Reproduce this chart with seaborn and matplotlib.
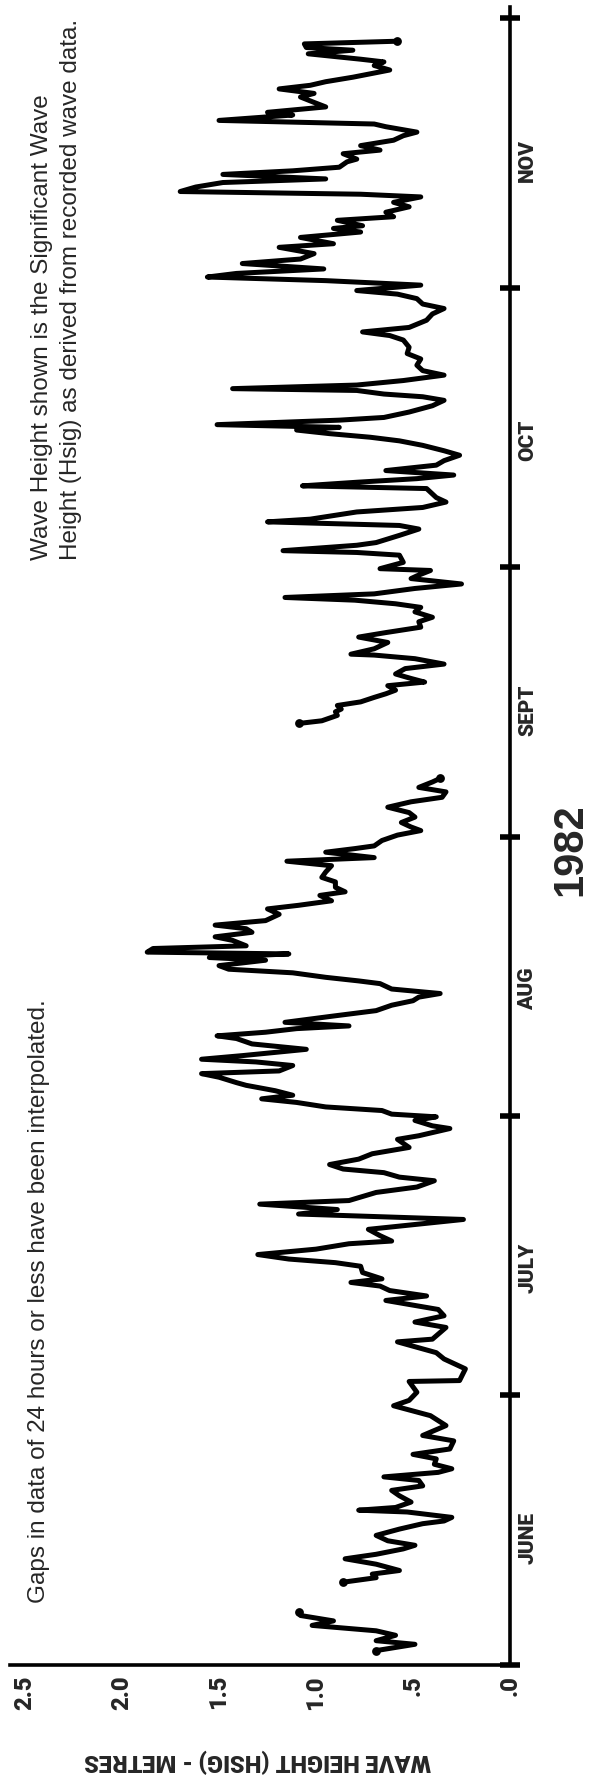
import numpy as np
import pandas as pd
import matplotlib
matplotlib.use("Agg")
import matplotlib.pyplot as plt
import seaborn as sns

# Significant wave height (m); time in days after 1 June 1982.
# Three recorded stretches separated by longer data gaps.
early_june_day = [1.6, 2.3, 2.7, 3.3, 3.8, 4.4, 4.9, 5.5, 5.9]
early_june_hsig = [0.69, 0.49, 0.69, 0.59, 0.69, 1.02, 0.91, 1.08, 1.09]

summer_day = [
    9.2, 9.7, 10.1, 10.5, 11.2, 11.8, 12.3, 12.9, 13.3, 13.8, 14.4, 15.1, 15.7,
    16.0, 16.4, 17.0, 17.2, 17.5, 18.1, 18.8, 19.4, 19.9, 20.5, 20.9, 21.4, 21.8,
    22.3, 22.9, 23.4, 24.0, 24.9, 25.5, 26.6, 27.7, 28.8, 29.4, 30.3, 31.5, 31.6,
    32.9, 34.0, 34.7, 35.9, 36.2, 37.5, 38.1, 38.8, 39.5, 40.5, 41.0, 41.6, 42.1,
    42.5, 42.9, 43.6, 44.3, 44.7, 45.1, 45.6, 46.2, 46.8, 47.1, 47.7, 48.4, 49.0,
    49.5, 50.1, 50.6, 51.2, 51.6, 52.5, 53.1, 53.8, 54.2, 54.7, 55.1, 55.6, 56.2,
    56.8, 57.5, 58.4, 58.8, 59.6, 59.9, 60.5, 60.9, 61.2, 61.6, 62.0, 62.5, 62.9,
    63.3, 63.8, 64.4, 64.7, 65.3, 65.7, 66.0, 66.6, 67.0, 67.3, 67.7, 68.4, 69.0,
    69.6, 69.9, 70.3, 70.7, 71.0, 71.4, 72.1, 72.7, 73.3, 73.8, 74.2, 74.6, 75.1,
    75.7, 76.0, 76.4, 76.9, 77.3, 77.7, 78.3, 78.6, 79.0, 79.2, 79.6, 79.9, 80.5,
    80.9, 81.4, 81.8, 82.2, 82.7, 83.4, 84.0, 84.4, 84.9, 85.5, 85.9, 86.4, 87.0,
    87.5, 88.1, 88.8, 89.3, 89.7, 90.3, 90.7, 91.0, 91.6, 92.2, 92.7, 93.1, 93.6,
    94.2, 94.7, 95.3, 95.9, 96.4, 97.0, 97.5, 98.1, 98.5,
]
summer_hsig = [
    0.86, 0.69, 0.71, 0.57, 0.69, 0.85, 0.69, 0.55, 0.49, 0.63, 0.69, 0.57, 0.45,
    0.34, 0.30, 0.53, 0.78, 0.59, 0.51, 0.57, 0.61, 0.45, 0.47, 0.65, 0.37, 0.30,
    0.39, 0.38, 0.50, 0.31, 0.29, 0.45, 0.33, 0.41, 0.60, 0.52, 0.48, 0.52, 0.26,
    0.23, 0.34, 0.38, 0.58, 0.40, 0.33, 0.49, 0.34, 0.37, 0.64, 0.43, 0.62, 0.67,
    0.82, 0.66, 0.76, 0.77, 0.90, 1.14, 1.30, 1.00, 0.83, 0.61, 0.67, 0.73, 0.46,
    0.24, 1.09, 0.89, 1.29, 0.83, 0.69, 0.48, 0.39, 0.57, 0.65, 0.86, 0.93, 0.78,
    0.71, 0.52, 0.58, 0.47, 0.31, 0.40, 0.49, 0.38, 0.61, 0.66, 0.95, 1.10, 1.28,
    1.12, 1.21, 1.36, 1.41, 1.50, 1.59, 1.19, 1.12, 1.31, 1.59, 1.38, 1.05, 1.33,
    1.41, 1.51, 1.26, 1.10, 0.83, 1.16, 0.91, 0.69, 0.61, 0.50, 0.47, 0.36, 0.61,
    0.67, 0.78, 0.95, 1.12, 1.45, 1.50, 1.26, 1.55, 1.14, 1.87, 1.84, 1.36, 1.43,
    1.52, 1.33, 1.36, 1.52, 1.26, 1.19, 1.25, 1.09, 0.92, 0.98, 0.85, 0.90, 0.90,
    0.97, 0.95, 0.92, 1.15, 0.70, 0.95, 0.80, 0.70, 0.66, 0.58, 0.46, 0.51, 0.56,
    0.49, 0.52, 0.63, 0.51, 0.35, 0.33, 0.47, 0.40, 0.36,
]

autumn_day = [
    104.6, 104.9, 105.5, 105.9, 106.2, 106.6, 107.0, 107.5, 107.9, 108.3, 108.8,
    109.2, 109.6, 110.1, 110.7, 111.2, 111.8, 112.2, 112.3, 112.9, 113.6, 114.2,
    114.7, 115.3, 115.9, 116.4, 117.0, 117.5, 117.9, 118.3, 118.6, 119.0, 119.6,
    120.1, 120.7, 121.0, 121.6, 121.8, 122.5, 123.3, 123.6, 123.8, 124.4, 124.7,
    125.5, 126.2, 126.6, 127.0, 127.3, 128.1, 128.6, 129.2, 129.7, 130.3, 130.7,
    131.0, 131.4, 131.8, 132.2, 132.7, 133.3, 133.8, 134.4, 134.9, 135.5, 136.0,
    136.4, 136.8, 137.2, 137.5, 137.8, 138.3, 138.6, 139.2, 139.9, 140.5, 140.9,
    141.2, 141.6, 141.8, 142.2, 142.7, 143.3, 143.8, 144.4, 145.1, 145.7, 146.4,
    147.2, 147.7, 148.1, 148.6, 149.4, 150.1, 150.7, 151.2, 151.8, 152.3, 152.7,
    153.3, 153.8, 154.2, 154.6, 155.1, 155.7, 156.2, 156.8, 157.5, 157.9, 158.6,
    159.2, 159.6, 159.9, 160.5, 160.9, 161.4, 162.0, 162.5, 163.1, 163.4, 163.7,
    164.2, 164.7, 165.1, 165.6, 166.0, 166.4, 167.0, 167.3, 167.9, 168.3, 168.8,
    169.4, 169.9, 170.3, 170.9, 171.2, 171.6, 172.2, 172.5, 173.1, 173.6, 174.2,
    174.6, 175.1, 175.5, 175.9, 176.4, 177.2, 177.7, 178.1, 178.4, 179.0, 179.4,
    179.7, 180.1, 180.4,
]
autumn_hsig = [
    1.09, 0.97, 0.89, 0.90, 0.87, 0.89, 0.77, 0.70, 0.64, 0.59, 0.63,
    0.44, 0.51, 0.59, 0.54, 0.34, 0.49, 0.70, 0.82, 0.70, 0.63, 0.78,
    0.64, 0.46, 0.47, 0.40, 0.49, 0.46, 0.59, 0.80, 1.16, 0.70, 0.49,
    0.25, 0.51, 0.48, 0.41, 0.67, 0.55, 0.57, 0.79, 1.17, 0.79, 0.69,
    0.57, 0.47, 0.57, 1.25, 1.03, 0.79, 0.45, 0.33, 0.38, 0.41, 0.43,
    1.07, 0.79, 0.48, 0.29, 0.64, 0.38, 0.34, 0.26, 0.34, 0.45, 0.57,
    0.72, 0.93, 1.10, 0.88, 1.51, 0.88, 0.65, 0.52, 0.40, 0.34, 0.45,
    0.65, 0.79, 1.43, 0.79, 0.55, 0.34, 0.45, 0.48, 0.46, 0.53, 0.52,
    0.55, 0.62, 0.76, 0.52, 0.43, 0.40, 0.34, 0.45, 0.48, 0.58, 0.79,
    0.46, 0.95, 1.56, 1.41, 0.96, 1.38, 1.08, 1.01, 1.19, 0.91, 1.08,
    0.77, 0.91, 0.76, 0.89, 0.60, 0.64, 0.52, 0.60, 0.46, 0.77, 1.70,
    1.62, 1.48, 0.95, 1.48, 1.12, 0.88, 0.84, 0.79, 0.86, 0.67, 0.77,
    0.60, 0.55, 0.48, 0.64, 0.70, 1.50, 1.12, 1.25, 0.95, 1.01, 1.08,
    1.01, 1.19, 1.03, 0.95, 0.81, 0.62, 0.70, 0.65, 0.77, 1.04, 0.81,
    1.05, 1.06, 0.58,
]

month_names = ["JUNE", "JULY", "AUG", "SEPT", "OCT", "NOV"]
month_lengths = [30, 31, 31, 30, 31, 30]
height_ticks = [0.0, 0.5, 1.0, 1.5, 2.0, 2.5]
height_labels = [".0", ".5", "1.0", "1.5", "2.0", "2.5"]

records = pd.concat(
    [
        pd.DataFrame({"day": early_june_day, "hsig": early_june_hsig, "stretch": "early June"}),
        pd.DataFrame({"day": summer_day, "hsig": summer_hsig, "stretch": "June-September"}),
        pd.DataFrame({"day": autumn_day, "hsig": autumn_hsig, "stretch": "September-November"}),
    ],
    ignore_index=True,
)
ends = records.groupby("stretch", sort=False).nth([0, -1])

sns.set_style("white")
plt.rcParams["font.family"] = ["Roboto", "DejaVu Sans"]

W, H = 600, 1783
fig = plt.figure(figsize=(W / 100, H / 100), dpi=100)
fig.patch.set_facecolor("white")

# Page is turned on its side: time runs upward, wave height grows to the left.
ax = fig.add_axes([9.5 / W, (H - 1666) / H, 500.5 / W, 1658 / H])

sns.lineplot(
    data=records, x="hsig", y="day", units="stretch", estimator=None,
    orient="y", sort=False, color="black", linewidth=3.6,
    solid_capstyle="round", solid_joinstyle="round", legend=False, ax=ax,
)
sns.scatterplot(
    data=ends, x="hsig", y="day", color="black", s=40, linewidth=0,
    legend=False, ax=ax,
)

ax.set_xlim(2.58, 0)
ax.set_ylim(0, 184.2)
ax.set_xlabel("")
ax.set_ylabel("")

for side in ("top", "left"):
    ax.spines[side].set_visible(False)
for side in ("right", "bottom"):
    ax.spines[side].set_linewidth(2.6)
    ax.spines[side].set_color("black")

# Month boundaries on the time axis, month names between them
month_starts = np.concatenate([[0], np.cumsum(month_lengths)])
ax.yaxis.tick_right()
ax.set_yticks(month_starts, labels=[""] * len(month_starts))
ax.set_yticks(
    month_starts[:-1] + 14.2, labels=month_names, minor=True,
    rotation=90, fontsize=15, fontweight="black", va="center",
)
ax.tick_params(axis="y", which="major", direction="inout", length=14,
               width=4, color="black", right=True, left=False)
ax.tick_params(axis="y", which="minor", length=0, pad=6, right=True, left=False)

ax.set_xticks(height_ticks, labels=height_labels, rotation=90,
              fontsize=17, fontweight="black")
ax.tick_params(axis="x", which="major", direction="inout", length=11,
               width=4, color="black", pad=1)

ax.set_xlabel("WAVE HEIGHT (HSIG) - METRES", rotation=180,
              fontsize=17, fontweight="black", va="center")
ax.xaxis.set_label_coords((258 - 9.5) / 500.5, -(1760 - 1666) / 1658)

fig.text(570 / W, 1 - 850 / H, "1982", rotation=90, ha="center",
         va="center", fontsize=30, fontweight="bold",
         family=["Liberation Sans", "DejaVu Sans"])

fig.text(39 / W, 1 - 1603 / H,
         "Gaps in data of 24 hours or less have been interpolated.",
         rotation=90, ha="center", va="bottom", fontsize=17.5,
         family=["Liberation Sans", "DejaVu Sans"])

fig.text(56.5 / W, 1 - 560 / H,
         "Wave Height shown is the Significant Wave\n"
         "Height (Hsig) as derived from recorded wave data.",
         rotation=90, ha="center", va="bottom", multialignment="left",
         linespacing=1.36, fontsize=17.5,
         family=["Liberation Sans", "DejaVu Sans"])

fig.savefig("out.png", dpi=100, facecolor="white")
